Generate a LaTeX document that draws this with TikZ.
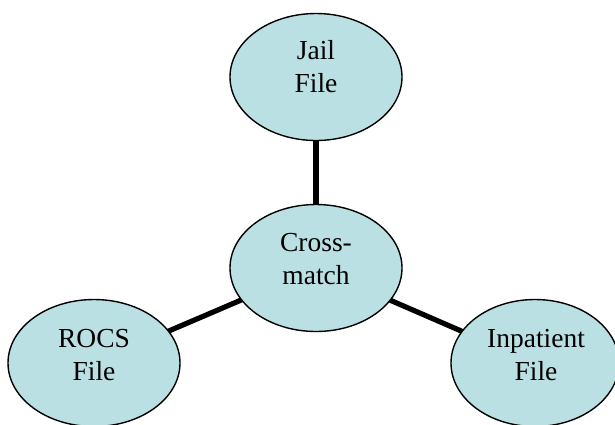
\documentclass[tikz,border=0pt]{standalone}
\usepackage{fontspec}
\setmainfont{Liberation Serif}
\usetikzlibrary{backgrounds,shapes.geometric}
\definecolor{bubble}{RGB}{187,224,227}
\begin{document}
\begin{tikzpicture}[x=1pt,y=-1pt,
  bubblebox/.style={ellipse, draw=black, line width=1.4pt, fill=bubble,
    minimum width=172pt, minimum height=127pt, inner sep=0pt},
  caption/.style={align=center, font=\fontsize{27.5}{33}\selectfont, inner sep=0pt},
  link/.style={line width=5.2pt, black}]
  \useasboundingbox (0,0) rectangle (615,424);

  % ellipses
  \node[bubblebox] (jail) at (316,77) {};
  \node[bubblebox] (cross) at (316,268) {};
  \node[bubblebox] (rocs) at (94,363) {};
  \node[bubblebox, minimum width=168pt] (inpat) at (535,363) {};

  % captions
  \node[caption] (jailtxt) at (316,67) {Jail\\File};
  \node[caption] (crosstxt) at (316,259) {Cross-\\match};
  \node[caption] (rocstxt) at (94,355) {ROCS\\File};
  \node[caption] (inpattxt) at (536,355) {Inpatient\\File};

  % connectors behind the ellipses
  \begin{scope}[on background layer]
    \draw[link] (jail.center) -- (cross.center);
    \draw[link] (cross.center) -- (rocs.center);
    \draw[link] (cross.center) -- (inpat.center);
  \end{scope}
\end{tikzpicture}
\end{document}
